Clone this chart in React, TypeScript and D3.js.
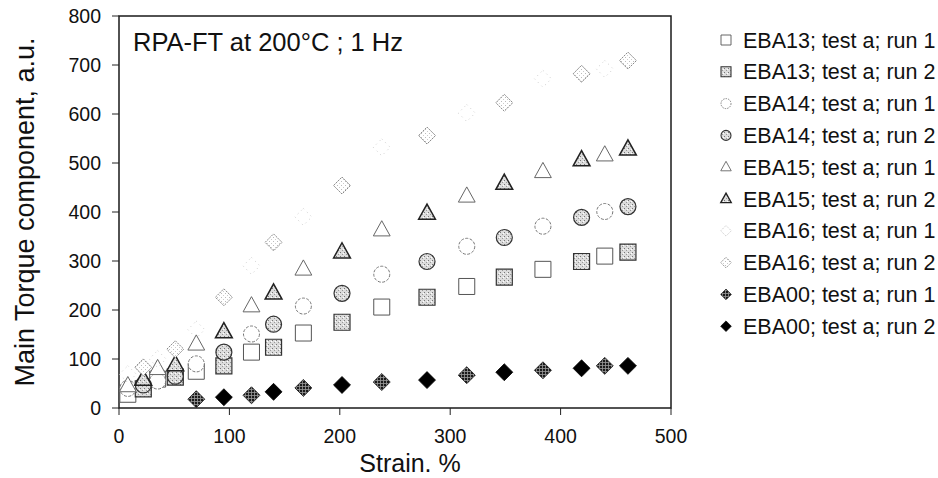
import React from 'react';
import * as d3 from 'd3';

// ---- data ----
const strainRun1 = [8, 35, 70, 120, 167, 238, 315, 384, 440];
const strainRun2 = [22, 51, 95, 140, 202, 279, 349, 419, 461];
const eba13Run1 = [28, 59, 75, 114, 153, 206, 248, 283, 310];
const eba13Run2 = [39, 63, 86, 124, 175, 226, 267, 299, 318];
const eba14Run1 = [40, 55, 90, 151, 208, 273, 330, 371, 401];
const eba14Run2 = [47, 65, 114, 171, 234, 299, 348, 389, 411];
const eba15Run1 = [45, 80, 130, 208, 283, 363, 432, 482, 516];
const eba15Run2 = [58, 88, 155, 234, 318, 397, 458, 506, 528];
const eba16Run1 = [69, 100, 160, 290, 390, 532, 602, 672, 692];
const eba16Run2 = [83, 120, 226, 338, 454, 556, 623, 682, 709];
const eba00Strain1 = [70, 120, 167, 238, 315, 384, 440];
const eba00Strain2 = [95, 140, 202, 279, 349, 419, 461];
const eba00Run1 = [18, 26, 41, 53, 67, 77, 86];
const eba00Run2 = [22, 33, 47, 57, 73, 81, 86];

const seriesLabels = [
  'EBA13; test a; run 1',
  'EBA13; test a; run 2',
  'EBA14; test a; run 1',
  'EBA14; test a; run 2',
  'EBA15; test a; run 1',
  'EBA15; test a; run 2',
  'EBA16; test a; run 1',
  'EBA16; test a; run 2',
  'EBA00; test a; run 1',
  'EBA00; test a; run 2',
];
const seriesX = [strainRun1, strainRun2, strainRun1, strainRun2, strainRun1, strainRun2, strainRun1, strainRun2, eba00Strain1, eba00Strain2];
const seriesY = [eba13Run1, eba13Run2, eba14Run1, eba14Run2, eba15Run1, eba15Run2, eba16Run1, eba16Run2, eba00Run1, eba00Run2];

const title = 'RPA-FT at 200°C ; 1 Hz';
const xTitle = 'Strain. %';
const yTitle = 'Main Torque component, a.u.';

// ---- styles ----
type Shape = 'square' | 'circle' | 'triangle' | 'diamond';
const styles: { shape: Shape; fill: string; stroke: string; sw: number; dash?: string }[] = [
  { shape: 'square', fill: '#fff', stroke: '#555', sw: 1 },
  { shape: 'square', fill: 'url(#speckle)', stroke: '#333', sw: 1.2 },
  { shape: 'circle', fill: '#fff', stroke: '#777', sw: 1, dash: '3,1.5' },
  { shape: 'circle', fill: 'url(#speckle)', stroke: '#333', sw: 1.2 },
  { shape: 'triangle', fill: '#fff', stroke: '#666', sw: 1 },
  { shape: 'triangle', fill: 'url(#speckle)', stroke: '#222', sw: 1.5 },
  { shape: 'diamond', fill: 'none', stroke: '#ccc', sw: 1, dash: '1,4' },
  { shape: 'diamond', fill: 'url(#speckleLight)', stroke: '#888', sw: 1, dash: '2,1' },
  { shape: 'diamond', fill: 'url(#hatch)', stroke: '#111', sw: 0.8 },
  { shape: 'diamond', fill: '#000', stroke: '#000', sw: 0.8 },
];

function markerPath(shape: Shape, cx: number, cy: number, s: number): string {
  const p = d3.path();
  const h = s / 2;
  if (shape === 'square') {
    p.rect(cx - h, cy - h, s, s);
  } else if (shape === 'circle') {
    p.moveTo(cx + h, cy);
    p.arc(cx, cy, h, 0, Math.PI * 2);
    p.closePath();
  } else if (shape === 'triangle') {
    const w = s * 1.05;
    const ht = s * 0.95;
    p.moveTo(cx, cy - ht * 0.62);
    p.lineTo(cx + w / 2, cy + ht * 0.38);
    p.lineTo(cx - w / 2, cy + ht * 0.38);
    p.closePath();
  } else {
    const d = s * 0.53;
    p.moveTo(cx, cy - d);
    p.lineTo(cx + d, cy);
    p.lineTo(cx, cy + d);
    p.lineTo(cx - d, cy);
    p.closePath();
  }
  return p.toString();
}

const W = 938;
const H = 478;
const left = 119;
const right = 671;
const top = 16;
const bottom = 408;

export default function App() {
  const x = d3.scaleLinear().domain([0, 500]).range([left, right]);
  const y = d3.scaleLinear().domain([0, 800]).range([bottom, top]);
  const font = '"Liberation Sans", Arial, sans-serif';
  const xTicks = x.ticks(5);
  const yTicks = y.ticks(8);

  return (
    <svg width={W} height={H} style={{ position: 'absolute', left: 0, top: 0, background: '#fff' }} fontFamily={font}>
      <defs>
        <pattern id="speckle" width="4" height="4" patternUnits="userSpaceOnUse">
          <rect width="4" height="4" fill="#dcdcdc" />
          <rect x="0" y="0" width="1" height="1" fill="#777" />
          <rect x="2" y="2" width="1" height="1" fill="#999" />
          <rect x="3" y="1" width="1" height="1" fill="#fff" />
        </pattern>
        <pattern id="speckleLight" width="4" height="4" patternUnits="userSpaceOnUse">
          <rect width="4" height="4" fill="#fff" />
          <rect x="1" y="1" width="1" height="1" fill="#bbb" />
          <rect x="3" y="3" width="1" height="1" fill="#ccc" />
        </pattern>
        <pattern id="hatch" width="3" height="3" patternUnits="userSpaceOnUse">
          <rect width="3" height="3" fill="#1a1a1a" />
          <rect x="2" y="0" width="0.8" height="3" fill="#999" />
          <rect x="0" y="2" width="3" height="0.8" fill="#999" />
        </pattern>
      </defs>
      <rect x={0} y={0} width={W} height={H} fill="#fff" />

      {/* frame */}
      <rect x={left} y={top} width={right - left} height={bottom - top} fill="none" stroke="#1a1a1a" strokeWidth={1.5} />

      {/* x ticks */}
      {xTicks.map((t) => (
        <g key={'xt' + t}>
          <line x1={x(t)} x2={x(t)} y1={bottom} y2={bottom + 7} stroke="#222" strokeWidth={1} />
          <text x={x(t)} y={443} textAnchor="middle" fontSize={19.5} fill="#111">{t}</text>
        </g>
      ))}
      {/* y ticks */}
      {yTicks.map((t) => (
        <g key={'yt' + t}>
          <line x1={left - 7} x2={left} y1={y(t)} y2={y(t)} stroke="#222" strokeWidth={1} />
          <text x={101} y={y(t) + 7} textAnchor="end" fontSize={19.5} fill="#111">{t}</text>
        </g>
      ))}

      <text x={(left + right) / 2 + 15} y={472} textAnchor="middle" fontSize={25} fill="#111">{xTitle}</text>
      <text transform={`translate(34, ${(top + bottom) / 2}) rotate(-90)`} textAnchor="middle" fontSize={27} fill="#111">{yTitle}</text>
      <text x={133} y={51} fontSize={25.5} fill="#111">{title}</text>

      {/* markers */}
      {seriesY.map((vals, si) => {
        const st = styles[si];
        const xs = seriesX[si];
        return (
          <g key={'s' + si}>
            {vals.map((v, i) => (
              <path
                key={i}
                d={markerPath(st.shape, x(xs[i]), y(v), 16)}
                fill={st.fill}
                stroke={st.stroke}
                strokeWidth={st.sw}
                strokeDasharray={st.dash}
              />
            ))}
          </g>
        );
      })}

      {/* legend */}
      {seriesLabels.map((lab, i) => {
        const st = styles[i];
        const cy = 40 + i * 31.8;
        return (
          <g key={'lg' + i}>
            <path d={markerPath(st.shape, 726, cy, 10)} fill={st.fill} stroke={st.stroke} strokeWidth={st.sw * 0.9} strokeDasharray={st.dash ? '1.5,1' : undefined} />
            <text x={743} y={cy + 7.5} fontSize={21.5} fill="#111">{lab}</text>
          </g>
        );
      })}
    </svg>
  );
}
